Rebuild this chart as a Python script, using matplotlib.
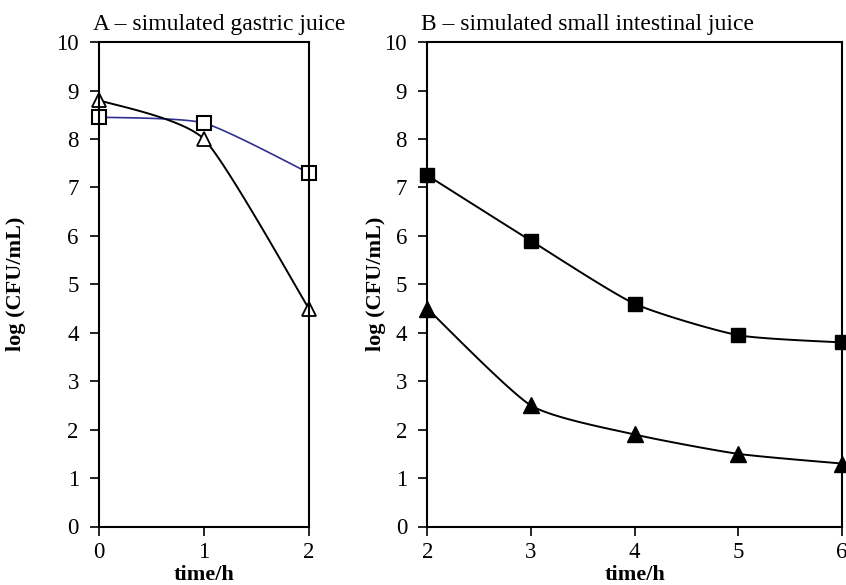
import matplotlib.pyplot as plt
import numpy as np

plt.rc('font', family='serif', serif=['Liberation Serif', 'DejaVu Serif'])
plt.rc('xtick', labelsize=16.5)
plt.rc('ytick', labelsize=16.5)
plt.rc('axes', labelsize=16)

# panel A - simulated gastric juice
time_a = [0, 1, 2]
sq_a = [8.45, 8.33, 7.3]
tri_a = [8.8, 8.0, 4.5]

# panel B - simulated small intestinal juice
time_b = [2, 3, 4, 5, 6]
sq_b = [7.25, 5.9, 4.6, 3.95, 3.8]
tri_b = [4.5, 2.5, 1.9, 1.5, 1.3]

yticks = list(range(0, 11))


def smooth(x, y, n=30, tau=0.3):
    # cardinal spline through the points, like Excel's smoothed line
    x = np.asarray(x, float)
    y = np.asarray(y, float)
    px = np.concatenate([[x[0]], x, [x[-1]]])
    py = np.concatenate([[y[0]], y, [y[-1]]])
    t = np.linspace(0, 1, n)
    h00 = 2 * t**3 - 3 * t**2 + 1
    h10 = t**3 - 2 * t**2 + t
    h01 = -2 * t**3 + 3 * t**2
    h11 = t**3 - t**2
    xs, ys = [], []
    for i in range(1, len(px) - 2):
        for p, out in ((px, xs), (py, ys)):
            m1 = tau * (p[i + 1] - p[i - 1])
            m2 = tau * (p[i + 2] - p[i])
            out.extend(h00 * p[i] + h10 * m1 + h01 * p[i + 1] + h11 * m2)
    return xs, ys


fig = plt.figure(figsize=(8.46, 5.85), dpi=100)
ax1 = fig.add_axes([0.117, 0.100, 0.248, 0.828])
ax2 = fig.add_axes([0.505, 0.100, 0.490, 0.828])

ax1.plot(*smooth(time_a, sq_a), color='#2e3192', lw=1.2)
ax1.plot(*smooth(time_a, tri_a), color='k', lw=1.4)
ax1.plot(time_a, sq_a, 's', ms=10, mfc='white', mec='k', mew=1.5, clip_on=False)
ax1.plot(time_a, tri_a, '^', ms=10, mfc='white', mec='k', mew=1.3, clip_on=False)

ax2.plot(*smooth(time_b, sq_b), color='k', lw=1.4)
ax2.plot(*smooth(time_b, tri_b), color='k', lw=1.4)
ax2.plot(time_b, sq_b, 's', ms=10, color='k', clip_on=False, zorder=5)
ax2.plot(time_b, tri_b, '^', ms=11, color='k', clip_on=False, zorder=5)

ax1.set_xlim(0, 2)
ax1.set_xticks(time_a)
ax2.set_xlim(2, 6)
ax2.set_xticks(time_b)

ax1.set_title('A \u2013 simulated gastric juice', fontsize=17, loc='left', x=-0.03, pad=9)
ax2.set_title('B \u2013 simulated small intestinal juice', fontsize=17, loc='left', x=-0.015, pad=9)

for ax, lp in ((ax1, 22), (ax2, -1)):
    ax.set_ylim(0, 10)
    ax.set_yticks(yticks)
    for s in ax.spines.values():
        s.set_linewidth(1.5)
    ax.tick_params(direction='out', length=6.5, width=1.2, top=False, right=False)
    ax.tick_params(axis='y', pad=8)
    ax.tick_params(axis='x', pad=5)
    ax.set_xlabel('time/h', fontweight='bold', labelpad=1)
    ax.set_ylabel('log (CFU/mL)', fontweight='bold', labelpad=lp)

fig.savefig('out.png', dpi=100)
